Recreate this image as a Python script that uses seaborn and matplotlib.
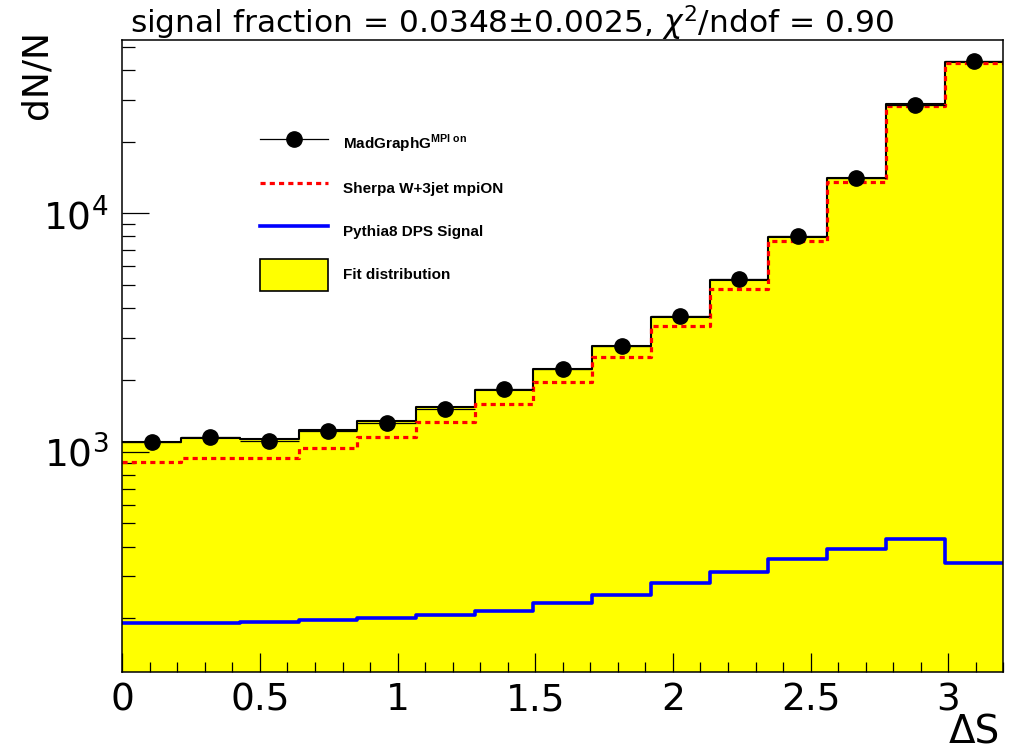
import numpy as np
import pandas as pd
import matplotlib
matplotlib.use("Agg")
import matplotlib.pyplot as plt
import seaborn as sns
from matplotlib.lines import Line2D
from matplotlib.patches import Patch
from matplotlib.ticker import MultipleLocator, LogLocator, NullFormatter

# ---------------- data ----------------
x_min, x_max, n_bins = 0.0, 3.2, 15
madgraph = [1095, 1152, 1109, 1225, 1319, 1510, 1827, 2223, 2776, 3698, 5287, 8054, 14100, 28470, 43410]
fit_dist = [1101, 1145, 1127, 1233, 1345, 1535, 1815, 2216, 2768, 3663, 5251, 7976, 14020, 28740, 42990]
sherpa = [908, 941, 941, 1039, 1149, 1328, 1585, 1954, 2503, 3367, 4828, 7652, 13570, 28110, 42700]
pythia = [191, 191, 193, 197, 200, 207, 215, 233, 251, 281, 312, 354, 391, 430, 340]
y_limits = (118.8, 53330)
labels = ["MadGraphG$^{\\mathbf{MPI\\ on}}$", "Sherpa W+3jet mpiON",
          "Pythia8 DPS Signal", "Fit distribution"]
title = "signal fraction = 0.0348\u00b10.0025, $\\chi^{2}$/ndof = 0.90"

edges = np.linspace(x_min, x_max, n_bins + 1)
centers = 0.5 * (edges[:-1] + edges[1:])
half_w = 0.5 * (edges[1] - edges[0])
df = pd.DataFrame({"x": centers, "fit": fit_dist, "sherpa": sherpa,
                   "pythia": pythia, "madgraph": madgraph})

plt.rcParams["font.family"] = ["DejaVu Sans"]
plt.rcParams["mathtext.fontset"] = "custom"
plt.rcParams["mathtext.rm"] = "DejaVu Sans"
plt.rcParams["mathtext.it"] = "DejaVu Sans:italic"
plt.rcParams["mathtext.bf"] = "Liberation Sans:bold"

W, H = 1019, 753
fig = plt.figure(figsize=(W / 100, H / 100), dpi=100)
ax = fig.add_axes([122.3 / W, 1 - 672.3 / H, 881.0 / W, 632.3 / H])

YELLOW, RED, BLUE = "#ffff00", "#ff0000", "#0000ff"
hist_kw = dict(data=df, x="x", bins=n_bins, binrange=(x_min, x_max), element="step", ax=ax)

sns.histplot(weights="fit", fill=True, color=YELLOW, alpha=1, linewidth=0, zorder=1, **hist_kw)
sns.histplot(weights="fit", fill=False, color="black", linewidth=1.5, zorder=2, **hist_kw)
sns.histplot(weights="sherpa", fill=False, color=RED, linewidth=2.3,
             linestyle=(0, (1.6, 1.3)), zorder=3, **hist_kw)
sns.histplot(weights="pythia", fill=False, color=BLUE, linewidth=2.6, zorder=3, **hist_kw)
ax.errorbar(df["x"], df["madgraph"], xerr=half_w, fmt="o", color="black", ms=11,
            elinewidth=0.9, capsize=0, zorder=4)

ax.set_yscale("log")
ax.set_xlim(x_min, x_max)
ax.set_ylim(*y_limits)
ax.set_xlabel("")
ax.set_ylabel("")

ax.xaxis.set_major_locator(MultipleLocator(0.5))
ax.xaxis.set_minor_locator(MultipleLocator(0.1))
ax.xaxis.set_major_formatter(matplotlib.ticker.FuncFormatter(lambda v, p: f"{v:g}"))
ax.yaxis.set_major_locator(LogLocator(base=10))
ax.yaxis.set_minor_locator(LogLocator(base=10, subs=np.arange(2, 10)))
ax.yaxis.set_minor_formatter(NullFormatter())

ax.tick_params(axis="x", which="major", direction="in", length=13.7, width=0.9,
               labelsize=27, pad=7, top=False)
ax.tick_params(axis="x", which="minor", direction="in", length=7, width=0.9, top=False)
ax.tick_params(axis="y", which="major", direction="in", length=19.5, width=0.9,
               labelsize=27, pad=10, right=False)
ax.tick_params(axis="y", which="minor", direction="in", length=9.5, width=0.9, right=False)
for s in ax.spines.values():
    s.set_linewidth(1.1)
    s.set_color("black")
    s.set_zorder(6)

handles = [
    Line2D([], [], color="black", lw=0.9, marker="o", ms=11),
    Line2D([], [], color=RED, lw=2.3, linestyle=(0, (1.6, 1.3))),
    Line2D([], [], color=BLUE, lw=2.6),
    Patch(facecolor=YELLOW, edgecolor="black", linewidth=1.2),
]
fs_leg = 11
fs_px = fs_leg * 100 / 72
leg = ax.legend(handles, labels, loc="upper left",
                bbox_to_anchor=(260 / W, 1 - 129 / H), bbox_transform=fig.transFigure,
                frameon=False, borderpad=0, borderaxespad=0,
                handlelength=68 / fs_px, handleheight=32 / fs_px * 1.33,
                handletextpad=0.95, labelspacing=12 / fs_px,
                prop={"family": "Liberation Sans", "weight": "bold", "size": fs_leg})

fig.text(130 / W, 1 - 33 / H, title, ha="left", va="baseline", fontsize=22.5)
fig.text(36 / W, 1 - 30 / H, "dN/N", rotation=90, ha="center", va="top", fontsize=26)
fig.text(1000 / W, 1 - 744 / H, "\u0394S", ha="right", va="baseline", fontsize=28)

fig.savefig("out.png", dpi=100)
